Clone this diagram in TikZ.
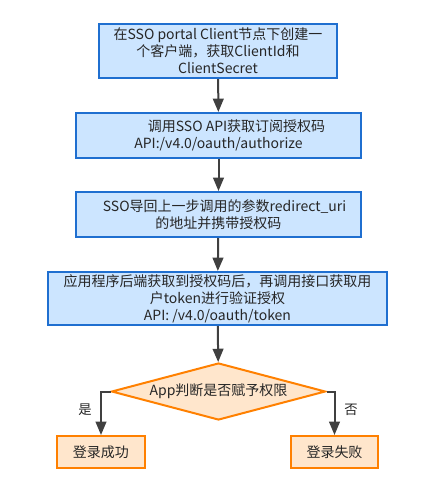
\documentclass[tikz,border=0pt]{standalone}
\usepackage{fontspec}
\setmainfont{Noto Sans CJK SC}
\usetikzlibrary{shapes.geometric,arrows.meta}
\definecolor{stepline}{HTML}{1F6FD0}
\definecolor{stepfill}{HTML}{CCE5FF}
\definecolor{endline}{HTML}{FF8000}
\definecolor{endfill}{HTML}{FFE6CC}
\definecolor{flow}{HTML}{404040}
\definecolor{ink}{HTML}{262626}
\begin{document}
\begin{tikzpicture}[x=0.75pt,y=-0.75pt,
  every node/.style={font=\fontsize{10.5}{12.75}\selectfont, text=ink},
  stepbox/.style={draw=stepline, fill=stepfill, line width=1.5pt, align=center, inner sep=0pt},
  endbox/.style={draw=endline, fill=endfill, line width=1.5pt, align=center, inner sep=0pt,
    minimum width=65.5pt, minimum height=24pt},
  decide/.style={diamond, aspect=3.754, draw=endline, fill=endfill, line width=1.5pt, inner sep=0pt,
    minimum width=160.5pt, minimum height=42.75pt},
  flowarrow/.style={draw=flow, line width=1.5pt, -{Triangle[length=10pt,width=8pt]}},
  branch/.style={font=\fontsize{10}{12}\selectfont}]
\useasboundingbox (0,0) rectangle (435,494);

\node[stepbox, minimum width=178.5pt, minimum height=40.5pt] (create) at (218,51)
  {在SSO portal Client节点下创建一\\个客户端，获取ClientId和\\ClientSecret};
\node[stepbox, minimum width=213.75pt, minimum height=33.75pt] (auth) at (218.5,135.5)
  {\hspace*{27pt}调用SSO API获取订阅授权码\\API:/v4.0/oauth/authorize};
\node[stepbox, minimum width=213.75pt, minimum height=33.75pt] (redirect) at (218.5,214.5)
  {\hspace*{9pt}SSO导回上一步调用的参数redirect\_uri\\的地址并携带授权码};
\node[stepbox, minimum width=254.25pt, minimum height=39.75pt] (token) at (217.5,298.5)
  {应用程序后端获取到授权码后，再调用接口获取用\\户token进行验证授权\\API: /v4.0/oauth/token};
\node[decide] (check) at (218.5,391.5) {App判断是否赋予权限};
\node[endbox] (ok) at (101,452) {登录成功};
\node[endbox] (fail) at (334.5,452) {登录失败};

\draw[flowarrow] (create) -- (auth);
\draw[flowarrow] (auth) -- (redirect);
\draw[flowarrow] (redirect) -- (token);
\draw[flowarrow] (token) -- (check);
\draw[flowarrow] (check.west) -| (ok.north);
\draw[flowarrow] (check.east) -| (fail.north);

\node[branch] (yes) at (85,410) {是};
\node[branch] (no) at (351,410) {否};
\end{tikzpicture}
\end{document}
